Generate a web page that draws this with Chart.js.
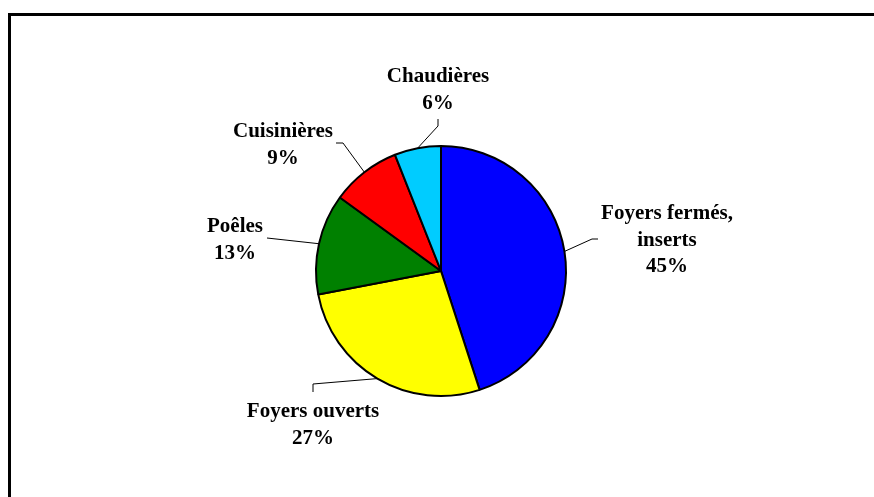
<!DOCTYPE html>
<html lang="fr">
<head>
  <meta charset="UTF-8" />
  <title>Répartition des appareils de chauffage au bois</title>
  <script src="https://cdn.jsdelivr.net/npm/chart.js"></script>
  <style>
    html, body {
      margin: 0;
      padding: 0;
      background: #fff;
      overflow: hidden;
    }
    .cadre {
      position: absolute;
      left: 8px;
      top: 13px;
      width: 950px;
      height: 600px;
      border: 3px solid #000;
    }
    .zone {
      position: absolute;
      left: 0;
      top: 0;
      width: 874px;
      height: 497px;
    }
  </style>
</head>
<body>
  <div class="cadre"></div>
  <div class="zone"><canvas id="graphique"></canvas></div>

  <script>
    // données
    const categories = ['Foyers fermés, inserts', 'Foyers ouverts', 'Poêles', 'Cuisinières', 'Chaudières'];
    const pourcentages = [45, 27, 13, 9, 6];
    const couleurs = ['#0000FF', '#FFFF00', '#008000', '#FF0000', '#00CCFF'];
    // étiquettes (lignes de texte) affichées à côté des parts
    const etiquettes = [
      ['Foyers fermés,', 'inserts', '45%'],
      ['Foyers ouverts', '27%'],
      ['Poêles', '13%'],
      ['Cuisinières', '9%'],
      ['Chaudières', '6%']
    ];

    // placement des étiquettes : centre x, ligne de base de la 1re ligne, points du trait de rappel
    const placement = [
      { x: 667, y: 219, trait: [[598, 239], [592, 239]] },
      { x: 313, y: 417, trait: [[313, 392], [313, 384]] },
      { x: 235, y: 232, trait: [[267, 238]] },
      { x: 283, y: 137, trait: [[336, 143], [343, 143]] },
      { x: 438, y: 82,  trait: [[438, 119], [438, 126]] }
    ];

    const pluginEtiquettes = {
      id: 'etiquettes',
      afterDatasetsDraw(chart) {
        const ctx = chart.ctx;
        const arcs = chart.getDatasetMeta(0).data;
        ctx.save();
        arcs.forEach((arc, i) => {
          const p = placement[i];
          const milieu = (arc.startAngle + arc.endAngle) / 2;
          const ax = arc.x + Math.cos(milieu) * arc.outerRadius;
          const ay = arc.y + Math.sin(milieu) * arc.outerRadius;

          ctx.strokeStyle = '#000';
          ctx.lineWidth = 1;
          ctx.beginPath();
          ctx.moveTo(p.trait[0][0], p.trait[0][1]);
          for (let k = 1; k < p.trait.length; k++) ctx.lineTo(p.trait[k][0], p.trait[k][1]);
          ctx.lineTo(ax, ay);
          ctx.stroke();

          ctx.fillStyle = '#000';
          ctx.font = 'bold 21px "Liberation Serif", "Times New Roman", serif';
          ctx.textAlign = 'center';
          ctx.textBaseline = 'alphabetic';
          etiquettes[i].forEach((ligne, j) => {
            ctx.fillText(ligne, p.x, p.y + j * 26.5);
          });
        });
        ctx.restore();
      }
    };

    const ctx = document.getElementById('graphique').getContext('2d');
    new Chart(ctx, {
      type: 'pie',
      data: {
        labels: categories,
        datasets: [{
          data: pourcentages,
          backgroundColor: couleurs,
          borderColor: '#000',
          borderWidth: 2
        }]
      },
      options: {
        responsive: true,
        maintainAspectRatio: false,
        animation: false,
        layout: {
          padding: { top: 145, bottom: 100, left: 200, right: 192 }
        },
        plugins: {
          legend: { display: false },
          tooltip: { enabled: false }
        }
      },
      plugins: [pluginEtiquettes]
    });
  </script>
</body>
</html>
